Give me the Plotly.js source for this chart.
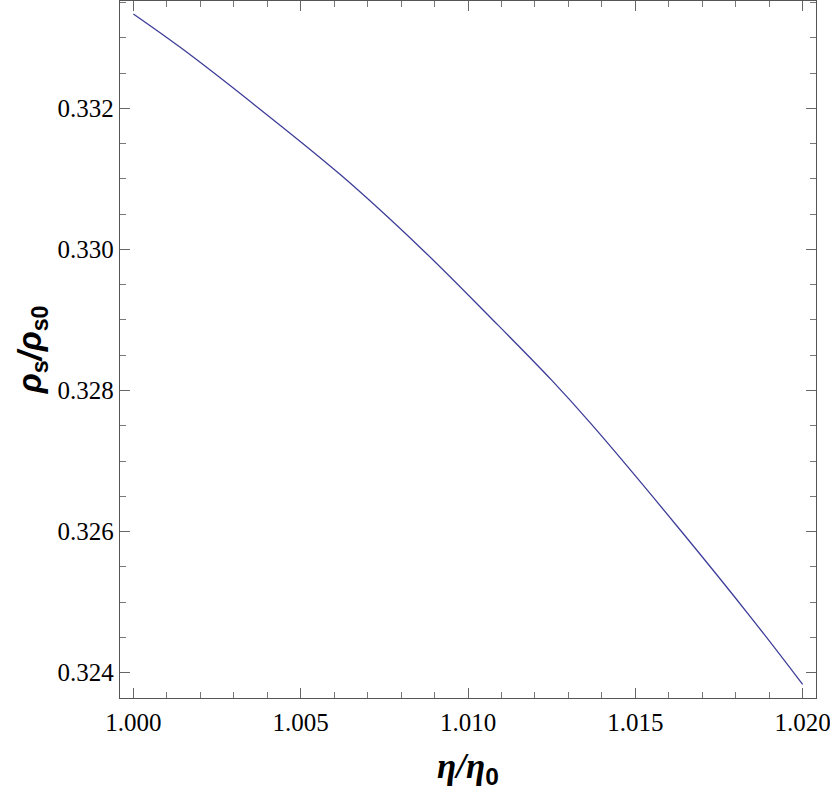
<!DOCTYPE html>
<html>
<head>
<meta charset="utf-8">
<script src="https://cdn.plot.ly/plotly-3.0.1.min.js"></script>
<style>html,body{margin:0;padding:0;background:#fff;}</style>
</head>
<body>
<div id="chart" style="width:830px;height:796px;"></div>
<script>
// eta/eta0 values
const etaRatio = [1.0000, 1.0014, 1.0034, 1.0062, 1.0086, 1.0107, 1.0125, 1.0137, 1.0163, 1.0185, 1.0200];
// rho_s/rho_s0 values
const rhoRatio = [0.333338, 0.332865, 0.332132, 0.331054, 0.330014, 0.329021, 0.328146, 0.327515, 0.326047, 0.324756, 0.323834];
const xTickVals = [1.000, 1.005, 1.010, 1.015, 1.020];
const xTickText = ["1.000", "1.005", "1.010", "1.015", "1.020"];
const yTickVals = [0.324, 0.326, 0.328, 0.330, 0.332];
const yTickText = ["0.324", "0.326", "0.328", "0.330", "0.332"];

const trace = {
  x: etaRatio, y: rhoRatio, type: 'scatter', mode: 'lines',
  line: {color: '#3d3d99', width: 1.3, shape: 'spline', smoothing: 1},
  hoverinfo: 'none'
};

const axisCommon = {
  showgrid: false, zeroline: false, showline: true, linecolor: '#555', linewidth: 1.2,
  mirror: 'allticks', ticks: 'inside', ticklen: 10, tickwidth: 1, tickcolor: '#666',
  tickfont: {family: 'Liberation Serif', size: 25, color: '#000'},
  ticklabeloverflow: 'allow',
  minor: {ticks: 'inside', ticklen: 6, tickwidth: 1, tickcolor: '#777', showgrid: false}
};

const layout = {
  width: 830, height: 796,
  margin: {l: 119.5, r: 14, t: 1, b: 98, pad: 0},
  paper_bgcolor: '#fff', plot_bgcolor: '#fff',
  showlegend: false,
  xaxis: Object.assign({}, axisCommon, {
    range: [0.9996, 1.0204],
    tickvals: xTickVals, ticktext: xTickText,
    minor: Object.assign({}, axisCommon.minor, {dtick: 0.001, tick0: 1.0}),
    ticklabelstandoff: 2,
    title: {text: '<b><i>η/η</i></b><sub><b><span style="font-family:Liberation Sans">0</span></b></sub>',
            font: {family: 'Liberation Serif', size: 35, color: '#000'}, standoff: 18}
  }),
  yaxis: Object.assign({}, axisCommon, {
    range: [0.32364, 0.333522],
    tickvals: yTickVals, ticktext: yTickText,
    minor: Object.assign({}, axisCommon.minor, {dtick: 0.0005, tick0: 0.324}),
    ticklabelstandoff: 0,
    title: {text: '<b><i>ρ</i></b><sub><b>s</b></sub><b><i>/ρ</i></b><sub><b>s0</b></sub>',
            font: {family: 'Liberation Sans', size: 33, color: '#000'}, standoff: 6}
  })
};

Plotly.newPlot('chart', [trace], layout, {displayModeBar: false, staticPlot: true});
</script>
</body>
</html>
